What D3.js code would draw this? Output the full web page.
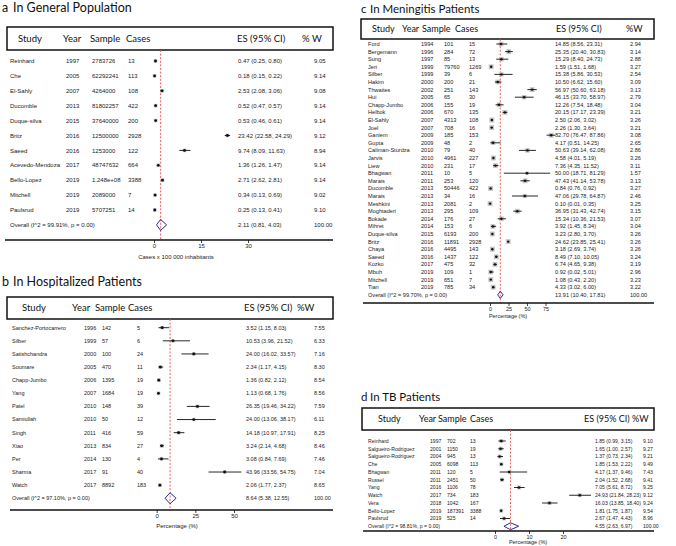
<!DOCTYPE html>
<html>
<head>
<meta charset="utf-8">
<script src="https://cdn.jsdelivr.net/npm/d3@7"></script>
<style>
  body { margin: 0; background: #fff; }
  svg { display: block; }
  .ttl { font-family: Lato, "Open Sans", sans-serif; fill: #111; }
  .hdr { font-family: Lato, "Open Sans", sans-serif; fill: #111; }
  .row { font-family: "Liberation Sans", Arial, sans-serif; fill: #222; }
  .tick text { font-family: "Liberation Sans", Arial, sans-serif; fill: #222; }
</style>
</head>
<body>
<script>
// a  In General Population
const genStudy = ["Reinhard", "Che", "El-Sahly", "Ducomble", "Duque-silva", "Britz", "Saeed", "Acevedo-Mendoza", "Bello-Lopez", "Mitchell", "Paulsrud"];
const genYear = [1997, 2005, 2007, 2013, 2015, 2016, 2016, 2017, 2019, 2019, 2019];
const genSample = [2783726, 62292241, 4264000, 81802257, 37640000, 12500000, 1253000, 48747632, 124800000, 2089000, 5707251];
const genCases = [13, 113, 108, 422, 200, 2928, 122, 664, 3388, 7, 14];
const genES = [0.47, 0.18, 2.53, 0.52, 0.53, 23.42, 9.74, 1.36, 2.71, 0.34, 0.25];
const genLo = [0.25, 0.15, 2.08, 0.47, 0.46, 22.58, 8.09, 1.26, 2.62, 0.13, 0.13];
const genHi = [0.80, 0.22, 3.06, 0.57, 0.61, 24.29, 11.63, 1.47, 2.81, 0.69, 0.41];
const genW = [9.05, 9.14, 9.08, 9.14, 9.14, 9.12, 8.94, 9.14, 9.14, 9.02, 9.10];
const genOverall = [2.11, 0.81, 4.03, 99.91];
const genTicks = [0, 15, 30];

// b  In Hospitalized Patients
const hosStudy = ["Sanchez-Portocarrero", "Silber", "Satishchandra", "Soumare", "Chapp-Jumbo", "Yang", "Patel", "Samiullah", "Singh", "Xiao", "Per", "Sharma", "Watch"];
const hosYear = [1996, 1999, 2000, 2005, 2006, 2007, 2010, 2010, 2011, 2013, 2014, 2017, 2017];
const hosSample = [142, 57, 100, 470, 1395, 1684, 148, 50, 416, 834, 130, 91, 8892];
const hosCases = [5, 6, 24, 11, 19, 19, 39, 12, 59, 27, 4, 40, 183];
const hosES = [3.52, 10.53, 24.00, 2.34, 1.36, 1.13, 26.35, 24.00, 14.18, 3.24, 3.08, 43.96, 2.06];
const hosLo = [1.15, 3.96, 16.02, 1.17, 0.82, 0.68, 19.46, 13.06, 10.97, 2.14, 0.84, 33.56, 1.77];
const hosHi = [8.03, 21.52, 33.57, 4.15, 2.12, 1.76, 34.22, 38.17, 17.91, 4.68, 7.69, 54.75, 2.37];
const hosW = [7.55, 6.33, 7.16, 8.30, 8.54, 8.56, 7.59, 6.11, 8.25, 8.46, 7.46, 7.04, 8.65];
const hosOverall = [8.64, 5.38, 12.55, 97.10];
const hosTicks = [0, 25, 50];

// c  In Meningitis Patients
const menStudy = ["Ford", "Bergemann", "Sung", "Jeri", "Silber", "Hakim", "Thwaites", "Hui", "Chapp-Jumbo", "Helbok", "El-Sahly", "Joel", "Ganiem", "Gupta", "Caliman-Sturdza", "Jarvis", "Liew", "Bhagwan", "Marais", "Ducomble", "Marais", "Meshkini", "Moghtaderi", "Bokade", "Mihret", "Duque-silva", "Britz", "Chaya", "Saeed", "Kozko", "Mbuh", "Mitchell", "Tian"];
const menYear = [1994, 1996, 1997, 1999, 1999, 2000, 2002, 2005, 2006, 2006, 2007, 2007, 2009, 2009, 2010, 2010, 2010, 2011, 2011, 2013, 2013, 2013, 2013, 2014, 2014, 2015, 2016, 2016, 2016, 2017, 2019, 2019, 2019];
const menSample = [101, 284, 85, 79760, 39, 200, 251, 65, 155, 670, 4313, 708, 185, 48, 79, 4961, 231, 10, 253, 50446, 34, 2081, 295, 176, 153, 6193, 11891, 4495, 1437, 475, 109, 651, 785];
const menCases = [15, 72, 13, 1269, 6, 21, 143, 30, 19, 135, 108, 16, 153, 2, 40, 227, 17, 5, 120, 422, 16, 2, 109, 27, 6, 200, 2928, 143, 122, 32, 1, 7, 34];
const menES = [14.85, 25.35, 15.29, 1.59, 15.38, 10.50, 56.97, 46.15, 12.26, 20.15, 2.50, 2.26, 82.70, 4.17, 50.63, 4.58, 7.36, 50.00, 47.43, 0.84, 47.06, 0.10, 36.95, 15.34, 3.92, 3.23, 24.62, 3.18, 8.49, 6.74, 0.92, 1.08, 4.33];
const menLo = [8.56, 20.40, 8.40, 1.51, 5.86, 6.62, 50.60, 33.70, 7.54, 17.17, 2.06, 1.30, 76.47, 0.51, 39.14, 4.01, 4.35, 18.71, 41.14, 0.76, 29.78, 0.01, 31.43, 10.36, 1.45, 2.80, 23.85, 2.69, 7.10, 4.65, 0.02, 0.43, 3.02];
const menHi = [23.31, 30.83, 24.73, 1.68, 30.53, 15.60, 63.18, 58.97, 18.48, 23.39, 3.02, 3.64, 87.86, 14.25, 62.08, 5.19, 11.52, 81.29, 53.78, 0.92, 64.87, 0.35, 42.74, 21.53, 8.34, 3.70, 25.41, 3.74, 10.05, 9.38, 5.01, 2.20, 6.00];
const menW = [2.94, 3.14, 2.88, 3.27, 2.54, 3.09, 3.13, 2.79, 3.04, 3.21, 3.26, 3.21, 3.08, 2.65, 2.86, 3.26, 3.11, 1.57, 3.13, 3.27, 2.46, 3.25, 3.15, 3.07, 3.04, 3.26, 3.26, 3.26, 3.24, 3.19, 2.96, 3.23, 3.22];
const menOverall = [13.91, 10.40, 17.81, 99.70];
const menTicks = [0, 25, 50, 75];

// d  In TB Patients
const tbStudy = ["Reinhard", "Salgueiro-Rodriguez", "Salgueiro-Rodriguez", "Che", "Bhagwan", "Russel", "Yang", "Watch", "Vera", "Bello-Lopez", "Paulsrud"];
const tbYear = [1997, 2001, 2004, 2005, 2011, 2011, 2016, 2017, 2018, 2019, 2019];
const tbSample = [702, 1150, 945, 6098, 120, 2451, 1106, 734, 1042, 187391, 525];
const tbCases = [13, 19, 13, 113, 5, 50, 78, 183, 167, 3388, 14];
const tbES = [1.85, 1.65, 1.37, 1.85, 4.17, 2.04, 7.05, 24.93, 16.03, 1.81, 2.67];
const tbLo = [0.99, 1.00, 0.73, 1.53, 1.37, 1.52, 5.61, 21.84, 13.85, 1.75, 1.47];
const tbHi = [3.15, 2.57, 2.34, 2.22, 9.46, 2.68, 8.72, 28.23, 18.40, 1.87, 4.43];
const tbW = [9.10, 9.27, 9.21, 9.49, 7.43, 9.41, 9.25, 9.12, 9.24, 9.54, 8.96];
const tbOverall = [4.55, 2.63, 6.97, 98.81];
const tbTicks = [0, 10, 20];

const f2 = d3.format(".2f");
const fmtSample = n => n >= 1e8 ? n.toExponential(3).replace(/e\+(\d)$/, "e+0$1") : String(n);

const svg = d3.select("body").append("svg").attr("width", 676).attr("height", 546);

function drawPanel(p) {
  const g = svg.append("g");
  const x = d3.scaleLinear().domain([p.ticks[0], p.ticks[p.ticks.length - 1]]).range(p.rng);
  const n = p.study.length;
  const y = d3.scaleLinear().domain([0, n]).range([p.row0, p.row0 + n * p.step]);

  // title
  g.append("text").attr("class", "ttl").attr("x", p.titleX[0]).attr("y", p.titleY)
    .style("font-size", p.titleFont + "px").text(p.letter);
  g.append("text").attr("class", "ttl").attr("x", p.titleX[1]).attr("y", p.titleY)
    .style("font-size", p.titleFont + "px").text(p.title);

  // header box
  g.append("rect").attr("x", p.box[0]).attr("y", p.box[2])
    .attr("width", p.box[1] - p.box[0]).attr("height", p.box[3] - p.box[2])
    .attr("fill", "none").attr("stroke", "#111").attr("stroke-width", 1.5);
  p.hdr.forEach(h => {
    g.append("text").attr("class", "hdr").attr("x", h[1]).attr("y", (p.box[2] + p.box[3]) / 2)
      .attr("dy", "0.35em").style("font-size", p.hdrFont + "px").text(h[0]);
  });

  // dashed overall line
  g.append("line").attr("x1", x(p.overall[0])).attr("x2", x(p.overall[0]))
    .attr("y1", p.box[3]).attr("y2", p.axisY)
    .attr("stroke", "#e0504e").attr("stroke-width", 0.9).attr("stroke-dasharray", "2,1.6");

  const rows = d3.range(n).map(i => ({
    i, study: p.study[i], year: p.year[i], sample: p.sample[i], cases: p.cases[i],
    es: p.es[i], lo: p.lo[i], hi: p.hi[i], w: p.w[i]
  }));

  const cell = (txt, cx, cy) => g.append("text").attr("class", "row").attr("x", cx).attr("y", cy)
    .attr("dy", "0.35em").style("font-size", p.rowFont + "px").text(txt);

  rows.forEach(r => {
    const ry = y(r.i);
    cell(r.study, p.cols[0], ry);
    cell(r.year, p.cols[1], ry);
    cell(fmtSample(r.sample), p.cols[2], ry);
    cell(r.cases, p.cols[3], ry);
    cell(`${f2(r.es)} (${f2(r.lo)}, ${f2(r.hi)})`, p.cols[4], ry);
    cell(f2(r.w), p.cols[5], ry);
    const s = p.boxK * Math.sqrt(r.w);
    g.append("rect").attr("x", x(r.es) - s / 2).attr("y", ry - s / 2)
      .attr("width", s).attr("height", s).attr("fill", "#c4c4c4");
    g.append("line").attr("x1", x(r.lo)).attr("x2", x(r.hi)).attr("y1", ry).attr("y2", ry)
      .attr("stroke", "#111").attr("stroke-width", 0.9);
    g.append("circle").attr("cx", x(r.es)).attr("cy", ry).attr("r", p.dotR).attr("fill", "#111");
  });

  // overall row
  const oy = y(n);
  cell(`Overall  (I^2 = ${f2(p.overall[3])}%, p = 0.00)`, p.cols[0], oy);
  cell(`${f2(p.overall[0])} (${f2(p.overall[1])}, ${f2(p.overall[2])})`, p.cols[4], oy);
  cell("100.00", p.cols[5], oy);
  const dh = p.diamH;
  g.append("path")
    .attr("d", `M${x(p.overall[1])},${oy} L${x(p.overall[0])},${oy - dh} L${x(p.overall[2])},${oy} L${x(p.overall[0])},${oy + dh} Z`)
    .attr("fill", "none").attr("stroke", "#2a2a9c").attr("stroke-width", 1);

  // axis
  g.append("line").attr("x1", p.axisX[0]).attr("x2", p.axisX[1]).attr("y1", p.axisY).attr("y2", p.axisY)
    .attr("stroke", "#111").attr("stroke-width", 1.3);
  const ax = g.append("g").attr("transform", `translate(0,${p.axisY})`)
    .call(d3.axisBottom(x).tickValues(p.ticks).tickSize(3).tickPadding(1).tickFormat(d3.format("d")));
  ax.select(".domain").remove();
  ax.selectAll(".tick line").attr("stroke", "#111").attr("stroke-width", 0.8);
  ax.selectAll(".tick text").style("font-size", p.tickFont + "px");
  g.append("text").attr("class", "row").attr("x", p.axisTitle[1]).attr("y", p.axisTitle[2])
    .attr("text-anchor", "middle").style("font-size", p.tickFont + "px").text(p.axisTitle[0]);
}

drawPanel({
  letter: "a", title: "In General Population", titleX: [2, 13], titleY: 12, titleFont: 12.5,
  study: genStudy, year: genYear, sample: genSample, cases: genCases,
  es: genES, lo: genLo, hi: genHi, w: genW, overall: genOverall, ticks: genTicks,
  rng: [154, 248], box: [7, 333, 27, 50], hdrFont: 9.5,
  hdr: [["Study", 18], ["Year", 63], ["Sample", 90], ["Cases", 126], ["ES (95% CI)", 237], ["% W", 302]],
  cols: [10, 66, 92, 128, 238, 314], row0: 61, step: 14.9, rowFont: 6,
  boxK: 1.2, dotR: 1.4, diamH: 5.5,
  axisY: 240, axisX: [5, 333], tickFont: 6, axisTitle: ["Cases x 100 000 inhabitants", 176, 259]
});

drawPanel({
  letter: "b", title: "In Hospitalized Patients", titleX: [2, 13], titleY: 286, titleFont: 12.5,
  study: hosStudy, year: hosYear, sample: hosSample, cases: hosCases,
  es: hosES, lo: hosLo, hi: hosHi, w: hosW, overall: hosOverall, ticks: hosTicks,
  rng: [156.7, 234], box: [7, 333, 297, 319], hdrFont: 9.5,
  hdr: [["Study", 22], ["Year", 72], ["Sample", 95], ["Cases", 128], ["ES (95% CI)", 244], ["%W", 297]],
  cols: [12, 84, 102, 137, 246, 314], row0: 327.7, step: 13.12, rowFont: 5.5,
  boxK: 1.3, dotR: 1.4, diamH: 5.5,
  axisY: 510, axisX: [10, 333], tickFont: 6, axisTitle: ["Percentage (%)", 177, 528]
});

drawPanel({
  letter: "c", title: "In Meningitis Patients", titleX: [361, 370], titleY: 13, titleFont: 11.5,
  study: menStudy, year: menYear, sample: menSample, cases: menCases,
  es: menES, lo: menLo, hi: menHi, w: menW, overall: menOverall, ticks: menTicks,
  rng: [490, 545.5], box: [361, 654, 19, 39], hdrFont: 9,
  hdr: [["Study", 372], ["Year", 402], ["Sample", 422], ["Cases", 455], ["ES (95% CI)", 556], ["%W", 626]],
  cols: [368, 421, 444, 469, 555, 630], row0: 44, step: 7.6, rowFont: 5.6,
  boxK: 2.7, dotR: 1.2, diamH: 3.5,
  axisY: 303, axisX: [363, 654], tickFont: 5.5, axisTitle: ["Percentage (%)", 508, 318]
});

drawPanel({
  letter: "d", title: "In TB Patients", titleX: [361, 370], titleY: 401, titleFont: 11.5,
  study: tbStudy, year: tbYear, sample: tbSample, cases: tbCases,
  es: tbES, lo: tbLo, hi: tbHi, w: tbW, overall: tbOverall, ticks: tbTicks,
  rng: [495, 563], box: [362, 654, 408, 430], hdrFont: 9,
  hdr: [["Study", 378], ["Year", 419], ["Sample", 438], ["Cases", 470], ["ES (95% CI)", 584], ["%W", 632]],
  cols: [368, 430, 447, 470, 595, 643], row0: 441, step: 7.75, rowFont: 5.1,
  boxK: 1.3, dotR: 1.2, diamH: 3.5,
  axisY: 531, axisX: [363, 654], tickFont: 5.5, axisTitle: ["Percentage (%)", 528, 544]
});
</script>
</body>
</html>
